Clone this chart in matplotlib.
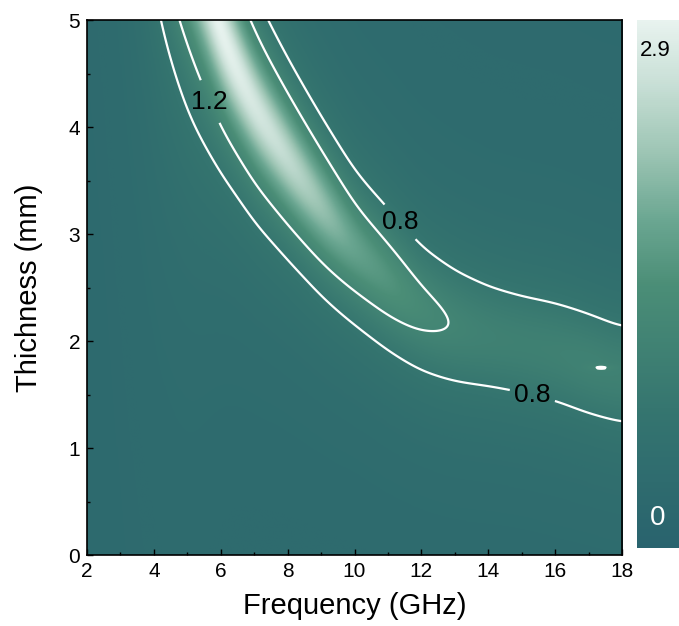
import matplotlib
matplotlib.use("Agg")
import matplotlib.pyplot as plt
import numpy as np
from matplotlib.colors import LinearSegmentedColormap
from matplotlib.ticker import MultipleLocator

plt.rcParams['font.family'] = ['Liberation Sans', 'DejaVu Sans']

# ridge of the map: thickness of the maximum for each frequency,
# its height and its width across thickness
ridge_freq = [2, 3, 4, 5, 6, 7, 8, 9, 10, 11, 12, 13, 14, 15, 16, 17, 18]
ridge_thick = [14.5, 9.7, 7.2, 6.0, 4.85, 4.18, 3.70, 3.26, 2.87, 2.575, 2.30, 2.14, 2.045, 1.97, 1.9, 1.79, 1.685]
ridge_peak = [2.9, 2.9, 2.9, 2.95, 2.9, 2.7, 2.5, 2.15, 1.72, 1.54, 1.31, 1.17, 1.09, 1.07, 1.08, 1.12, 1.08]
ridge_width = [1.0, 1.0, 1.0, 0.92, 0.62, 0.55, 0.51, 0.51, 0.53, 0.545, 0.57, 0.60, 0.61, 0.61, 0.61, 0.58, 0.595]
background = 0.3

# small isolated spot just above 1.2 near the right edge
spot_freq, spot_thick, spot_value = 17.4, 1.75, 1.2125

levels = [0.8, 1.2]
label_pos = [(5.55, 4.22), (11.24, 3.08), (15.31, 1.48)]
vmin, vmax = 0, 2.9

freq = np.linspace(2, 18, 500)
thick = np.linspace(0, 5, 500)


def smooth(y, sigma):
    k = np.arange(-3 * sigma, 3 * sigma + 1)
    k = np.exp(-0.5 * (k / sigma) ** 2)
    k /= k.sum()
    yp = np.pad(y, 3 * sigma, mode='edge')
    return np.convolve(yp, k, mode='valid')


tc = smooth(np.interp(freq, ridge_freq, ridge_thick), 10)
A = smooth(np.interp(freq, ridge_freq, ridge_peak), 10)
W = smooth(np.interp(freq, ridge_freq, ridge_width), 12)

F, T = np.meshgrid(freq, thick)
Z = background + (A - background) / (1 + ((T - tc) / W) ** 2)

iy = np.argmin(abs(thick - spot_thick))
ix = np.argmin(abs(freq - spot_freq))
Z += (spot_value - Z[iy, ix]) * np.exp(-0.5 * (((F - spot_freq) / 0.3) ** 2 + ((T - spot_thick) / 0.02) ** 2))

cmap = LinearSegmentedColormap.from_list('teal', [
    (0.0, '#29636e'), (0.25, '#34746f'), (0.5, '#4b8e77'), (0.62, '#6aa691'),
    (0.75, '#9dc5b4'), (0.88, '#c8dfd6'), (1.0, '#e8f3ef')])

fig = plt.figure(figsize=(6.79, 6.26), dpi=100)
ax = fig.add_axes([0.1281, 0.1134, 0.788, 0.8546])

im = ax.imshow(Z, origin='lower', extent=[2, 18, 0, 5], aspect='auto', cmap=cmap,
               vmin=vmin, vmax=vmax, interpolation='bilinear')
cs = ax.contour(F, T, Z, levels=levels, colors='white', linewidths=1.6)
labels = ax.clabel(cs, levels, manual=label_pos, fmt='%.1f', inline=True, inline_spacing=5,
                   fontsize=19, colors='black')
for t in labels:
    t.set_rotation(0)

ax.set_xlim(2, 18)
ax.set_ylim(0, 5)
ax.xaxis.set_major_locator(MultipleLocator(2))
ax.xaxis.set_minor_locator(MultipleLocator(1))
ax.yaxis.set_major_locator(MultipleLocator(1))
ax.yaxis.set_minor_locator(MultipleLocator(0.5))
ax.tick_params(which='both', direction='in', width=1, labelsize=15, pad=5)
ax.tick_params(which='major', length=4)
ax.tick_params(which='minor', length=2.5)
for s in ax.spines.values():
    s.set_linewidth(1.2)

ax.set_xlabel('Frequency (GHz)', fontsize=21, labelpad=8)
ax.set_ylabel('Thichness (mm)', fontsize=21, labelpad=18)

cax = fig.add_axes([0.938, 0.1246, 0.08, 0.8435])
cb = fig.colorbar(im, cax=cax)
cb.set_ticks([])
cb.outline.set_visible(False)
cax.text(0.05, 0.943, '2.9', transform=cax.transAxes, fontsize=16, color='black',
         va='center', ha='left')
cax.text(0.24, 0.057, '0', transform=cax.transAxes, fontsize=20, color='white',
         va='center', ha='left')

fig.savefig('out.png', dpi=100)
